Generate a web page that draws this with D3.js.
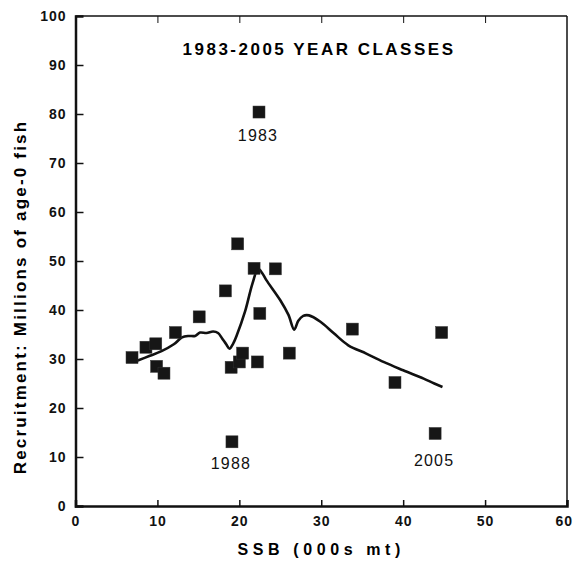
<!DOCTYPE html>
<html>
<head>
<meta charset="utf-8">
<script src="https://cdn.jsdelivr.net/npm/d3@7"></script>
<style>
  body { margin: 0; background: #fff; }
  svg { display: block; font-family: "Liberation Sans", Arial, sans-serif; }
  .axis text { font-size: 14px; font-weight: bold; letter-spacing: 1px; fill: #111; }
  .axis path, .axis line { stroke: #111; }
</style>
</head>
<body>
<div id="plot"></div>
<script>
// observed year classes: SSB (000s mt) and recruitment (millions age-0)
const ssb = [6.9, 8.6, 9.8, 9.9, 10.8, 12.2, 15.1, 18.3, 19.8, 19.0, 20.0, 20.4, 22.2, 22.5, 21.8, 24.4, 26.1, 33.8, 39.0, 44.7, 43.9, 22.4, 19.1];
const recruits = [30.3, 32.4, 33.1, 28.5, 27.1, 35.4, 38.6, 43.9, 53.5, 28.3, 29.4, 31.2, 29.4, 39.3, 48.5, 48.4, 31.2, 36.1, 25.2, 35.4, 14.8, 80.4, 13.1];

// labelled years
const labelYears = ["1983", "1988", "2005"];
const labelSsb = [22.4, 19.1, 43.9];
const labelRec = [80.4, 13.1, 14.8];

// smoothed fit line
const fitX = [7.6, 9.0, 10.5, 12.0, 13.0, 13.8, 14.6, 15.2, 16.0, 16.8, 17.4, 17.9, 18.4, 18.8, 19.2, 19.7, 20.7, 21.6, 22.3, 22.8, 23.3, 25.0, 26.0, 26.7, 27.2, 27.8, 28.5, 29.9, 31.5, 33.3, 35.5, 37.6, 40.0, 42.5, 43.8, 44.8];
const fitY = [29.7, 30.6, 31.6, 33.0, 34.4, 34.7, 34.7, 35.4, 35.3, 35.6, 35.3, 34.2, 33.0, 32.1, 33.0, 34.9, 39.7, 45.4, 48.4, 47.5, 46.1, 42.0, 39.0, 36.0, 37.8, 38.8, 38.9, 37.6, 35.3, 32.8, 31.1, 29.4, 27.7, 26.0, 25.0, 24.3];

const xTicks = [0, 10, 20, 30, 40, 50, 60];
const yTicks = [0, 10, 20, 30, 40, 50, 60, 70, 80, 90, 100];

const W = 573, H = 565;
const pLeft = 75.5, pRight = 567, pTop = 16, pBottom = 506;

var svg = d3.select("#plot").append("svg")
    .attr("width", W)
    .attr("height", H);

var x = d3.scaleLinear().domain([0, 60]).range([pLeft, pRight]);
var y = d3.scaleLinear().domain([0, 100]).range([pBottom, pTop]);

// frame (top and right thinner)
svg.append("line").attr("x1", pLeft).attr("x2", pRight).attr("y1", pTop).attr("y2", pTop)
    .attr("stroke", "#111").attr("stroke-width", 1.5);
svg.append("line").attr("x1", pRight).attr("x2", pRight).attr("y1", pTop).attr("y2", pBottom)
    .attr("stroke", "#111").attr("stroke-width", 1.5);

// top ticks
svg.append("g")
    .attr("class", "axis")
    .attr("transform", "translate(0," + pTop + ")")
    .call(d3.axisTop(x).tickValues(xTicks.slice(1, -1)).tickSize(-7).tickFormat(""))
    .call(g => g.select(".domain").remove());

// bottom axis
svg.append("g")
    .attr("class", "axis")
    .attr("transform", "translate(0," + pBottom + ")")
    .call(d3.axisBottom(x).tickValues(xTicks).tickSize(-6).tickPadding(10).tickFormat(d3.format("d")))
    .call(g => g.select(".domain").attr("stroke-width", 2.5))
    .call(g => g.selectAll(".tick line").attr("stroke-width", 1.5))
    // last label would run off the page edge: pin its right side inside
    .call(g => g.selectAll(".tick").filter(d => d === 60).select("text")
        .attr("text-anchor", "end").attr("x", 5.5));

// left axis
svg.append("g")
    .attr("class", "axis")
    .attr("transform", "translate(" + pLeft + ",0)")
    .call(d3.axisLeft(y).tickValues(yTicks).tickSize(-8).tickPadding(9).tickFormat(d3.format("d")))
    .call(g => g.select(".domain").attr("stroke-width", 2.5))
    .call(g => g.selectAll(".tick line").attr("stroke-width", 1.5))
    .call(g => g.selectAll(".tick").filter(d => d === 0 || d === 100).select("line").remove());

// axis titles
svg.append("text")
    .attr("x", (pLeft + pRight) / 2)
    .attr("y", 555)
    .attr("text-anchor", "middle")
    .style("font-size", "16px")
    .style("font-weight", "bold")
    .style("letter-spacing", "4.6px")
    .text("SSB (000s mt)");

svg.append("text")
    .attr("transform", "translate(26," + 297 + ") rotate(-90)")
    .attr("text-anchor", "middle")
    .style("font-size", "17px")
    .style("font-weight", "bold")
    .style("letter-spacing", "2.2px")
    .text("Recruitment: Millions of age-0 fish");

svg.append("text")
    .attr("x", 319)
    .attr("y", 55)
    .attr("text-anchor", "middle")
    .style("font-size", "17px")
    .style("font-weight", "bold")
    .style("letter-spacing", "2.5px")
    .text("1983-2005 YEAR CLASSES");

// fit line
var line = d3.line()
    .x(function (d, i) { return x(fitX[i]); })
    .y(function (d, i) { return y(fitY[i]); })
    .curve(d3.curveCatmullRom);

svg.append("path")
    .datum(fitX)
    .attr("d", line)
    .attr("fill", "none")
    .attr("stroke", "#111")
    .attr("stroke-width", 2.6)
    .attr("stroke-linejoin", "round");

// points
var sq = 12;
svg.append("g")
    .selectAll("rect")
    .data(ssb)
    .enter()
    .append("rect")
        .attr("x", function (d) { return x(d) - sq / 2; })
        .attr("y", function (d, i) { return y(recruits[i]) - sq / 2; })
        .attr("width", sq)
        .attr("height", sq)
        .attr("fill", "#161616")
        .attr("stroke", "#333")
        .attr("stroke-width", 0.5);

// year labels under their points
var labelGap = [29, 27, 33];
svg.append("g")
    .selectAll("text")
    .data(labelYears)
    .enter()
    .append("text")
        .attr("x", function (d, i) { return x(labelSsb[i]) - 1; })
        .attr("y", function (d, i) { return y(labelRec[i]) + labelGap[i]; })
        .attr("text-anchor", "middle")
        .style("font-size", "16px")
        .style("font-weight", "500")
        .style("letter-spacing", "1.2px")
        .style("fill", "#111")
        .text(function (d) { return d; });
</script>
</body>
</html>
